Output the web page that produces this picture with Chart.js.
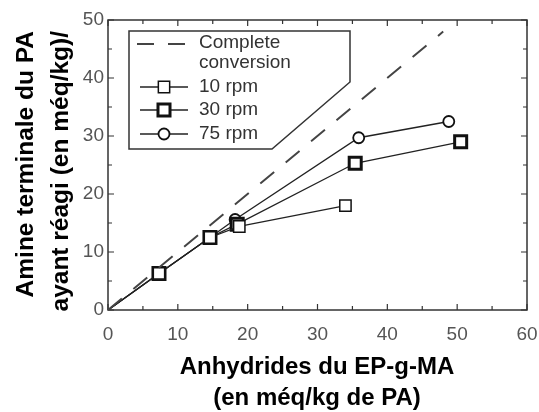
<!DOCTYPE html>
<html>
<head>
<meta charset="utf-8">
<script src="https://cdn.jsdelivr.net/npm/chart.js@4"></script>
<style>
  html, body { margin: 0; padding: 0; background: #fff; }
  #wrap { width: 539px; height: 412px; }
</style>
</head>
<body>
<div id="wrap"><canvas id="chart"></canvas></div>
<script>
// values
const convX = [0, 48];
const convY = [0, 48];
const x10 = [0, 7.3, 14.6, 18.8, 34.0];
const y10 = [0, 6.3, 12.5, 14.4, 18.0];
const x30 = [0, 7.3, 14.6, 18.5, 35.4, 50.5];
const y30 = [0, 6.3, 12.5, 14.8, 25.3, 29.0];
const x75 = [0, 7.3, 14.6, 18.2, 35.9, 48.8];
const y75 = [0, 6.3, 12.5, 15.6, 29.7, 32.5];
const xTicks = [0, 10, 20, 30, 40, 50, 60];
const yTicks = [0, 10, 20, 30, 40, 50];
const labels = ['10 rpm', '30 rpm', '75 rpm'];

const FONT = '"Liberation Sans", Arial, Helvetica, sans-serif';

function pts(xs, ys) {
    return xs.map((x, i) => ({ x: x, y: ys[i] }));
}
// no marker at the origin, the lines just start there
function markerSize(r) {
    return ctx => ctx.dataIndex === 0 ? 0 : r;
}

const series = [
    { data: pts(x10, y10), pointStyle: 'rect', radius: 8, border: 1.5 },
    { data: pts(x30, y30), pointStyle: 'rect', radius: 8.5, border: 3 },
    { data: pts(x75, y75), pointStyle: 'circle', radius: 5.5, border: 1.8 }
];

const datasets = [{
    label: 'Complete conversion',
    data: pts(convX, convY),
    showLine: true,
    borderColor: '#444',
    borderWidth: 2,
    borderDash: [18, 15],
    pointRadius: 0
}];
series.forEach((s, i) => {
    datasets.push({
        label: labels[i],
        data: s.data,
        showLine: true,
        borderColor: '#222',
        borderWidth: 1.3,
        pointStyle: s.pointStyle,
        pointRadius: markerSize(s.radius),
        pointBorderWidth: s.border,
        pointBorderColor: '#111',
        pointBackgroundColor: '#fff'
    });
});

// box with inner ticks on all four sides
const framePlugin = {
    id: 'frame',
    beforeDatasetsDraw(chart) {
        const c = chart.ctx, a = chart.chartArea;
        const sx = chart.scales.x, sy = chart.scales.y;
        c.save();
        c.strokeStyle = '#333';
        c.lineWidth = 1.5;
        c.strokeRect(a.left, a.top, a.right - a.left, a.bottom - a.top);
        c.lineWidth = 1.2;
        c.beginPath();
        for (let v = 0; v <= 60; v += 5) {
            const px = sx.getPixelForValue(v);
            const len = v % 10 === 0 ? 6 : 4;
            c.moveTo(px, a.bottom); c.lineTo(px, a.bottom - len);
            c.moveTo(px, a.top); c.lineTo(px, a.top + len);
        }
        for (let v = 0; v <= 50; v += 5) {
            const py = sy.getPixelForValue(v);
            const len = v % 10 === 0 ? 6 : 4;
            c.moveTo(a.left, py); c.lineTo(a.left + len, py);
            c.moveTo(a.right, py); c.lineTo(a.right - len, py);
        }
        c.stroke();
        c.restore();
    }
};

// legend box with the cut corner, and the axis titles
const legendPlugin = {
    id: 'boxLegend',
    afterDraw(chart) {
        const c = chart.ctx;
        c.save();
        c.beginPath();
        c.moveTo(129, 31);
        c.lineTo(350, 31);
        c.lineTo(350, 82);
        c.lineTo(272, 149);
        c.lineTo(129, 149);
        c.closePath();
        c.fillStyle = '#fff';
        c.fill();
        c.strokeStyle = '#333';
        c.lineWidth = 1.5;
        c.stroke();

        const ds = chart.data.datasets;
        c.font = '19px ' + FONT;
        c.fillStyle = '#333';
        c.textBaseline = 'middle';
        c.textAlign = 'left';

        c.strokeStyle = ds[0].borderColor;
        c.lineWidth = 2;
        c.setLineDash([17, 14]);
        c.beginPath();
        c.moveTo(137, 44); c.lineTo(190, 44);
        c.stroke();
        c.setLineDash([]);
        c.fillText('Complete', 199, 43);
        c.fillText('conversion', 199, 63);

        const rows = [87, 110, 134];
        for (let i = 1; i < ds.length; i++) {
            const y = rows[i - 1];
            c.strokeStyle = ds[i].borderColor;
            c.lineWidth = ds[i].borderWidth;
            c.beginPath();
            c.moveTo(140, y); c.lineTo(188, y);
            c.stroke();
            const s = series[i - 1];
            c.strokeStyle = ds[i].pointBorderColor;
            c.fillStyle = '#fff';
            c.lineWidth = s.border;
            Chart.helpers.drawPoint(c, { pointStyle: s.pointStyle, radius: s.radius, rotation: 0, borderWidth: s.border }, 164, y);
            c.fillStyle = '#333';
            c.fillText(ds[i].label, 199, y);
        }

        c.fillStyle = '#000';
        c.font = 'bold 24px ' + FONT;
        c.textBaseline = 'alphabetic';
        c.textAlign = 'center';
        c.fillText('Anhydrides du EP-g-MA', 317, 374);
        c.fillText('(en méq/kg de PA)', 317, 405);

        c.font = 'bold 24.5px ' + FONT;
        c.textAlign = 'right';
        c.translate(33, 31);
        c.rotate(-Math.PI / 2);
        c.fillText('Amine terminale du PA', 0, 0);
        c.fillText('ayant réagi (en méq/kg)/', 0, 35);
        c.restore();
    }
};

const ctx = document.getElementById('chart').getContext('2d');
const chart = new Chart(ctx, {
    type: 'scatter',
    data: { datasets: datasets },
    options: {
        responsive: true,
        maintainAspectRatio: false,
        animation: false,
        layout: { padding: { top: 20, right: 12, left: 0, bottom: 0 } },
        plugins: { legend: { display: false }, tooltip: { enabled: false } },
        scales: {
            x: {
                type: 'linear',
                min: 0, max: 60,
                afterBuildTicks: s => { s.ticks = xTicks.map(v => ({ value: v })); },
                afterFit: s => { s.height = 102; s.paddingLeft = 0; s.paddingRight = 0; },
                grid: { display: false, drawTicks: false },
                border: { display: false },
                ticks: { color: '#555', font: { family: FONT, size: 19 }, padding: 13, maxRotation: 0 }
            },
            y: {
                type: 'linear',
                min: 0, max: 50,
                afterBuildTicks: s => { s.ticks = yTicks.map(v => ({ value: v })); },
                afterFit: s => { s.width = 108; s.paddingTop = 0; s.paddingBottom = 0; },
                grid: { display: false, drawTicks: false },
                border: { display: false },
                ticks: { color: '#555', font: { family: FONT, size: 19 }, padding: 4 }
            }
        }
    },
    plugins: [framePlugin, legendPlugin]
});
</script>
</body>
</html>
